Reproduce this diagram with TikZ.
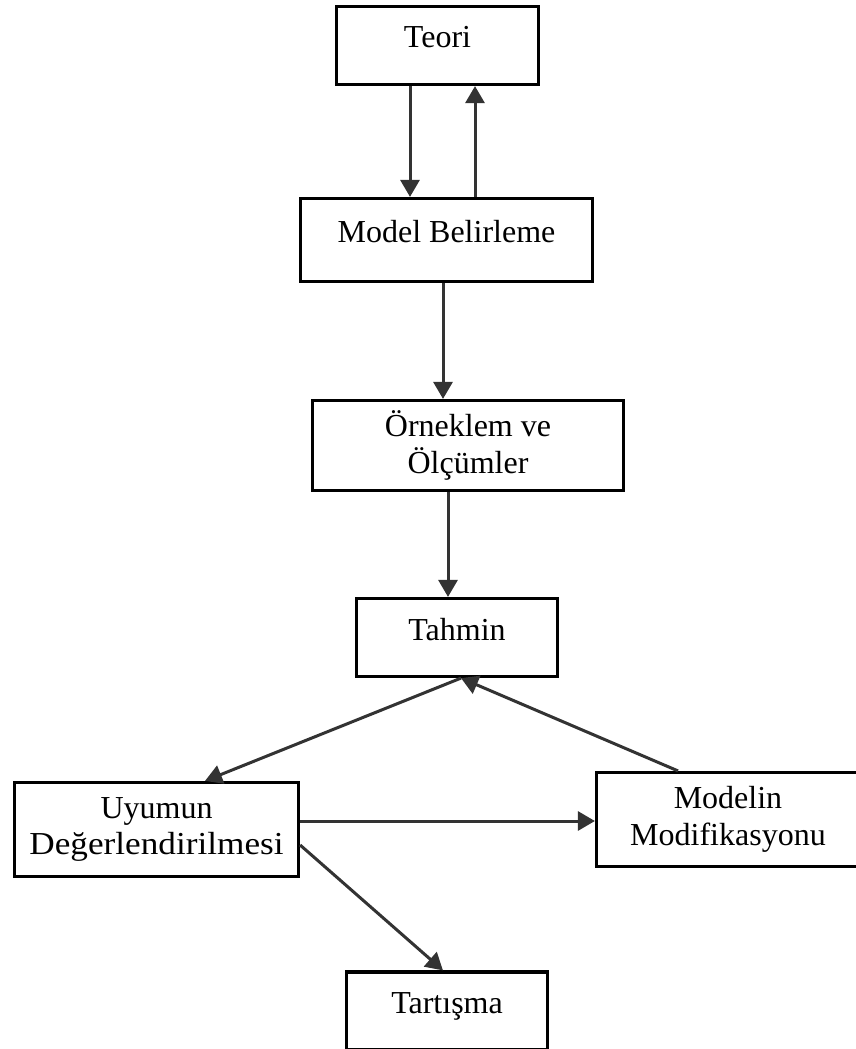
\documentclass[tikz,border=0pt]{standalone}
\usepackage{fontspec}
\setmainfont{Liberation Serif}
\usetikzlibrary{arrows.meta}
\begin{document}
\begin{tikzpicture}[x=1pt,y=-1pt,
  box/.style={draw=black, line width=3.2pt, rectangle, inner sep=0pt,
    align=center, font=\fontsize{32}{36.5}\selectfont},
  oneline/.style={text height=21pt, text depth=16pt},
  arr/.style={draw=black!80, line width=3pt,
    -{Triangle[length=17pt,width=19pt]}}]
\useasboundingbox (0,0) rectangle (855,1049);

% process boxes
\node[box, oneline, minimum width=202pt, minimum height=78pt] (teori) at (437.5,45.5) {Teori};
\node[box, oneline, minimum width=292pt, minimum height=83pt] (model) at (446.5,240) {Model Belirleme};
\node[box, minimum width=311pt, minimum height=90pt] (orn) at (468,445.5) {Örneklem ve\\Ölçümler};
\node[box, oneline, minimum width=201pt, minimum height=78pt] (tahmin) at (457,637.5) {Tahmin};
\node[box, minimum width=284pt, minimum height=94pt] (uyum) at (156.5,829.5) {Uyumun\\\scalebox{1.1}[1]{Değerlendirilmesi}};
\node[box, minimum width=263pt, minimum height=94pt] (modif) at (728,819.5) {Modelin\\Modifikasyonu};
\node[box, oneline, minimum width=201pt, minimum height=78pt] (tart) at (447,1011) {Tartışma};

% connectors
\draw[arr] ([xshift=-27.5pt]teori.south) -- ([xshift=-27.5pt]teori.south |- model.north);
\draw[arr] ([xshift=28.5pt]model.north) -- ([xshift=28.5pt]model.north |- teori.south);
\draw[arr] ([xshift=-3.5pt]model.south) -- ([xshift=-3.5pt]model.south |- orn.north);
\draw[arr] ([xshift=-20pt]orn.south) -- ([xshift=-20pt]orn.south |- tahmin.north);
\draw[arr] ([xshift=4pt]tahmin.south) -- ([xshift=48.5pt]uyum.north);
\draw[arr] ([xshift=-50pt]modif.north) -- ([xshift=4pt]tahmin.south);
\draw[arr] ([yshift=8.5pt]uyum.east) -- ([yshift=8.5pt]uyum.east -| modif.west);
\draw[arr] ([yshift=-15.5pt]uyum.east) -- ([xshift=-4pt]tart.north);
\end{tikzpicture}
\end{document}
